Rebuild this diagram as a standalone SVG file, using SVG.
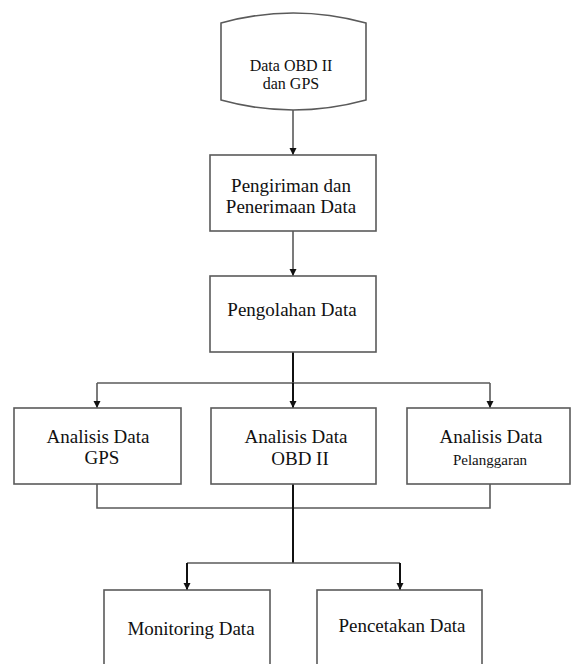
<svg xmlns="http://www.w3.org/2000/svg" width="571" height="664" viewBox="0 0 571 664">
  <style>
    .box { fill: #ffffff; stroke: #5a5a5a; stroke-width: 1.6; }
    .lbl { font-family: "Liberation Serif", "Times New Roman", serif; font-size: 19px; fill: #111111; text-anchor: middle; }
    .sm { font-size: 16px; }
    .xs { font-size: 15px; }
    .ln { fill: none; stroke: #5a5a5a; stroke-width: 1.6; }
    .lnb { fill: none; stroke: #111111; stroke-width: 2; }
  </style>
  <defs>
    <marker id="arr" viewBox="0 0 10 10" refX="10" refY="5" markerWidth="7" markerHeight="8" markerUnits="userSpaceOnUse" orient="auto">
      <path d="M0,0 L10,5 L0,10 Z" fill="#111111"/>
    </marker>
  </defs>
  <rect width="571" height="664" fill="#ffffff"/>

  <g id="connectors">
    <line class="ln" x1="293" y1="110" x2="293" y2="155" marker-end="url(#arr)"/>
    <line class="ln" x1="293" y1="231" x2="293" y2="276" marker-end="url(#arr)"/>
    <line class="lnb" x1="293" y1="352" x2="293" y2="383"/>
    <line class="ln" x1="97" y1="383" x2="490" y2="383"/>
    <line class="ln" x1="97" y1="383" x2="97" y2="408" marker-end="url(#arr)"/>
    <line class="lnb" x1="293" y1="383" x2="293" y2="408" marker-end="url(#arr)"/>
    <line class="ln" x1="490" y1="383" x2="490" y2="408" marker-end="url(#arr)"/>
    <polyline class="ln" points="97,484 97,508 490,508 490,484"/>
    <line class="lnb" x1="293" y1="484" x2="293" y2="563"/>
    <line class="ln" x1="187" y1="563" x2="400" y2="563"/>
    <line class="lnb" x1="187" y1="563" x2="187" y2="590" marker-end="url(#arr)"/>
    <line class="lnb" x1="400" y1="563" x2="400" y2="590" marker-end="url(#arr)"/>
  </g>

  <g id="data-source">
    <path class="box" d="M221,23 Q293,3 366,23 L366,100 Q293,120 221,100 Z"/>
    <text class="lbl sm" x="291" y="71">Data OBD II</text>
    <text class="lbl sm" x="291" y="89">dan GPS</text>
  </g>

  <g id="pengiriman">
    <rect class="box" x="210" y="155" width="166" height="76"/>
    <text class="lbl" x="291" y="192">Pengiriman dan</text>
    <text class="lbl" x="291" y="213">Penerimaan Data</text>
  </g>

  <g id="pengolahan">
    <rect class="box" x="210" y="276" width="166" height="76"/>
    <text class="lbl" x="292" y="316">Pengolahan Data</text>
  </g>

  <g id="analisis-gps">
    <rect class="box" x="14" y="408" width="167" height="76"/>
    <text class="lbl" x="98" y="443">Analisis Data</text>
    <text class="lbl" x="102" y="464">GPS</text>
  </g>

  <g id="analisis-obd">
    <rect class="box" x="211" y="408" width="165" height="76"/>
    <text class="lbl" x="296" y="443">Analisis Data</text>
    <text class="lbl" x="300" y="465">OBD II</text>
  </g>

  <g id="analisis-pelanggaran">
    <rect class="box" x="407" y="408" width="163" height="76"/>
    <text class="lbl" x="491" y="443">Analisis Data</text>
    <text class="lbl xs" x="490" y="465">Pelanggaran</text>
  </g>

  <g id="monitoring">
    <rect class="box" x="104" y="590" width="166" height="90"/>
    <text class="lbl" x="191" y="635">Monitoring Data</text>
  </g>

  <g id="pencetakan">
    <rect class="box" x="317" y="590" width="165" height="90"/>
    <text class="lbl" x="402" y="632">Pencetakan Data</text>
  </g>
</svg>
